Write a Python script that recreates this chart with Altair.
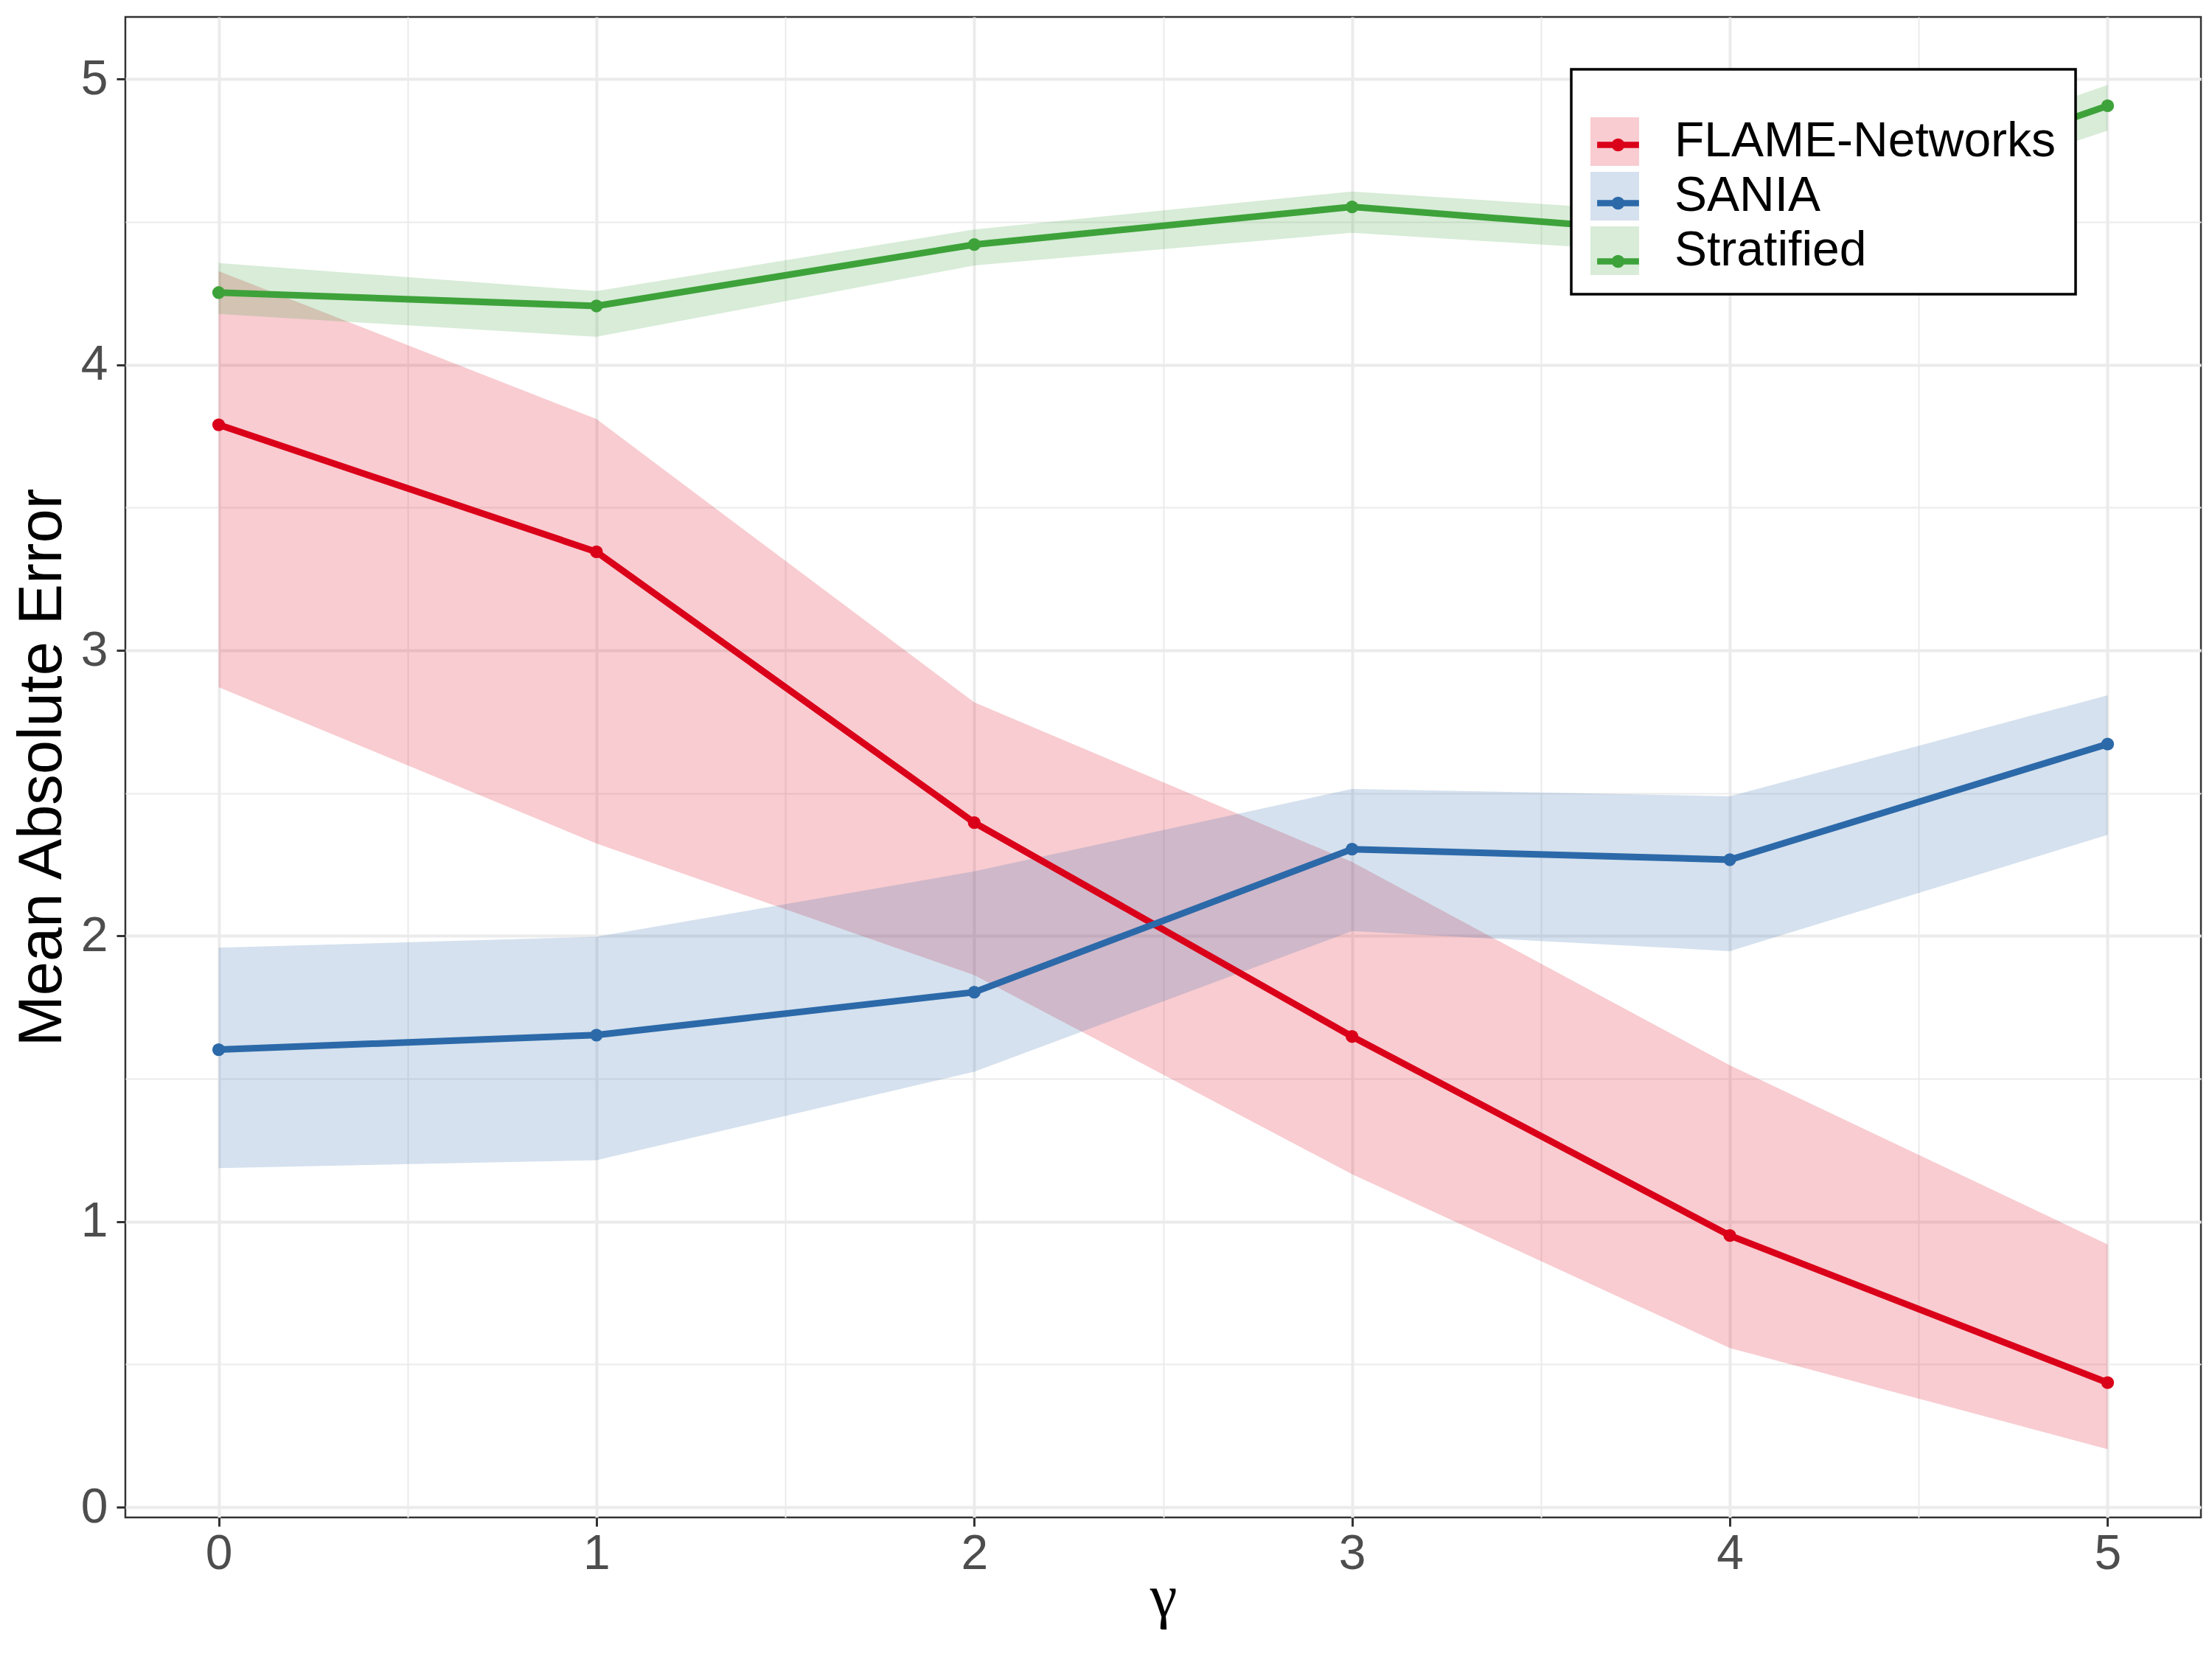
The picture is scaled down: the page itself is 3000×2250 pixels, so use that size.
import altair as alt
import pandas as pd

# ---- data ----
gamma = [0, 1, 2, 3, 4, 5]
methods = ["FLAME-Networks", "SANIA", "Stratified"]
colors = ["#DA0019", "#2C69A9", "#3EA23A"]

flame_mean = [3.790, 3.345, 2.397, 1.648, 0.951, 0.436]
flame_lo = [2.871, 2.324, 1.863, 1.166, 0.557, 0.203]
flame_hi = [4.328, 3.810, 2.818, 2.259, 1.547, 0.920]

sania_mean = [1.602, 1.653, 1.803, 2.304, 2.267, 2.672]
sania_lo = [1.187, 1.215, 1.525, 2.017, 1.947, 2.354]
sania_hi = [1.959, 1.997, 2.226, 2.515, 2.489, 2.843]

strat_mean = [4.253, 4.206, 4.421, 4.553, 4.450, 4.907]
strat_lo = [4.178, 4.098, 4.348, 4.462, 4.380, 4.820]
strat_hi = [4.356, 4.258, 4.474, 4.607, 4.520, 4.980]

x_grid = [0, 0.5, 1, 1.5, 2, 2.5, 3, 3.5, 4, 4.5, 5]
y_grid = [0, 0.5, 1, 1.5, 2, 2.5, 3, 3.5, 4, 4.5, 5]

rows = []
for name, m, lo, hi in [
    ("FLAME-Networks", flame_mean, flame_lo, flame_hi),
    ("SANIA", sania_mean, sania_lo, sania_hi),
    ("Stratified", strat_mean, strat_lo, strat_hi),
]:
    for g, a, b, c in zip(gamma, m, lo, hi):
        rows.append({"gamma": g, "method": name, "mae": a, "lo": b, "hi": c})
df = pd.DataFrame(rows)

SANS = "Liberation Sans"
SERIF = "Liberation Serif"

major = "datum.value % 1 === 0"
label_expr = "datum.value % 1 === 0 ? format(datum.value, 'd') : ''"

x_axis = alt.Axis(
    values=x_grid,
    title="γ",
    titleFont=SERIF,
    titleFontSize=83,
    titleFontWeight="normal",
    titleColor="black",
    titleBaseline="alphabetic",
    titleY=133,
    labelExpr=label_expr,
    labelFont=SANS,
    labelFontSize=66,
    labelColor="#4D4D4D",
    labelPadding=5,
    labelFlush=False,
    labelOverlap=False,
    domain=False,
    tickColor="#333333",
    tickWidth=3,
    tickSize=12,
    tickOpacity={"condition": {"test": major, "value": 1}, "value": 0},
    gridColor="#EBEBEB",
    gridWidth={"condition": {"test": major, "value": 4}, "value": 2},
)

y_axis = alt.Axis(
    values=y_grid,
    title="Mean Absolute Error",
    titleFont=SANS,
    titleFontSize=83,
    titleFontWeight="normal",
    titleColor="black",
    titleAngle=270,
    titleAlign="center",
    titleBaseline="alphabetic",
    titleX=-88,
    labelExpr=label_expr,
    labelFont=SANS,
    labelFontSize=66,
    labelColor="#4D4D4D",
    labelPadding=12,
    labelFlush=False,
    labelOverlap=False,
    domain=False,
    tickColor="#333333",
    tickWidth=3,
    tickSize=12,
    tickOpacity={"condition": {"test": major, "value": 1}, "value": 0},
    gridColor="#EBEBEB",
    gridWidth={"condition": {"test": major, "value": 4}, "value": 2},
)

xs = alt.Scale(domain=[-0.247, 5.247], nice=False, zero=False)
ys = alt.Scale(domain=[-0.036, 5.218], nice=False, zero=False)

legend_common = dict(
    orient="none",
    legendX=1961,
    legendY=71,
    padding=26,
    title=" ",
    titleFontSize=34,
    titlePadding=5,
    symbolSize=4356,
    rowPadding=8,
    labelFont=SANS,
    labelFontSize=66,
    labelColor="black",
    labelOffset=48,
    labelLimit=2000,
)

band = alt.Chart(df).mark_area(opacity=0.2).encode(
    x=alt.X("gamma:Q", scale=xs, axis=x_axis),
    y=alt.Y("lo:Q", scale=ys, axis=y_axis),
    y2="hi:Q",
    fill=alt.Fill(
        "method:N",
        scale=alt.Scale(domain=methods, range=colors),
        legend=alt.Legend(
            symbolType="square",
            symbolOpacity=0.2,
            symbolStrokeWidth=0,
            strokeColor="black",
            fillColor="white",
            cornerRadius=0,
            zindex=1,
            **legend_common,
        ),
    ),
)

key_path = (
    "M-0.86,0H0.86"
    "M0.14,0A0.14,0.14,0,1,1,-0.14,0A0.14,0.14,0,1,1,0.14,0Z"
)

lines = alt.Chart(df).mark_line(strokeWidth=9).encode(
    x=alt.X("gamma:Q", scale=xs),
    y=alt.Y("mae:Q", scale=ys),
    color=alt.Color(
        "method:N",
        scale=alt.Scale(domain=methods, range=colors),
        legend=alt.Legend(
            symbolType=key_path,
            symbolStrokeWidth=8.5,
            symbolOpacity=1,
            labelExpr="''",
            zindex=2,
            **legend_common,
        ),
    ),
)

points = alt.Chart(df).mark_point(filled=True, size=300, opacity=1, shape="circle").encode(
    x=alt.X("gamma:Q", scale=xs),
    y=alt.Y("mae:Q", scale=ys),
    fill=alt.Fill(
        "method:N",
        scale=alt.Scale(domain=methods, range=colors),
        legend=None,
    ),
)

chart = (
    alt.layer(band, lines, points)
    .resolve_scale(color="independent", fill="independent")
    .properties(
        width=2815,
        height=2035,
        autosize=alt.AutoSizeParams(type="none"),
        padding={"left": 162, "top": 15, "right": 7, "bottom": 184},
        background="white",
    )
    .configure_view(stroke="#333333", strokeWidth=2.5)
    .configure_legend(strokeWidth=3.5)
)

chart.save("out.html", embed_options={"renderer": "svg", "actions": False})
